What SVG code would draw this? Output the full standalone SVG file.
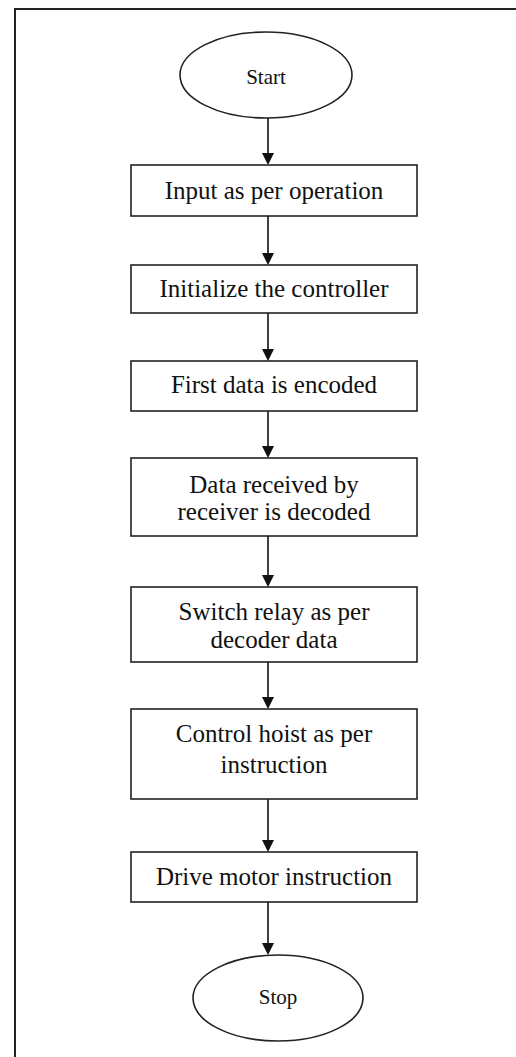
<svg xmlns="http://www.w3.org/2000/svg" width="516" height="1057" viewBox="0 0 516 1057">
<style>
.frame{fill:none;stroke:#222;stroke-width:2}
.box{fill:#fff;stroke:#222;stroke-width:1.6}
.t{font-family:"Liberation Serif","Times New Roman",serif;font-size:25px;fill:#111;text-anchor:middle}
.s{font-family:"Liberation Serif","Times New Roman",serif;font-size:21px;fill:#111;text-anchor:middle}
.ln{stroke:#111;stroke-width:1.6}
.hd{fill:#111}
</style>
<rect width="516" height="1057" fill="#fff"/>
<path class="frame" d="M15,1057 L15,9 L516,9"/>
<g id="connectors">
<path class="ln" d="M268,118 L268,155"/><path class="hd" d="M262,153 L274,153 L268,165 Z"/>
<path class="ln" d="M268,216 L268,255"/><path class="hd" d="M262,253 L274,253 L268,265 Z"/>
<path class="ln" d="M268,313 L268,351"/><path class="hd" d="M262,349 L274,349 L268,361 Z"/>
<path class="ln" d="M268,411 L268,448"/><path class="hd" d="M262,446 L274,446 L268,458 Z"/>
<path class="ln" d="M268,536 L268,577"/><path class="hd" d="M262,575 L274,575 L268,587 Z"/>
<path class="ln" d="M268,662 L268,699"/><path class="hd" d="M262,697 L274,697 L268,709 Z"/>
<path class="ln" d="M268,799 L268,842"/><path class="hd" d="M262,840 L274,840 L268,852 Z"/>
<path class="ln" d="M268,902 L268,945"/><path class="hd" d="M262,943 L274,943 L268,955 Z"/>
</g>
<g id="start"><ellipse class="box" cx="266" cy="75" rx="86" ry="43"/><text class="s" x="266" y="84">Start</text></g>
<g id="n1"><rect class="box" x="131" y="165" width="286" height="51"/><text class="t" x="274" y="199">Input as per operation</text></g>
<g id="n2"><rect class="box" x="131" y="265" width="286" height="48"/><text class="t" x="274" y="297">Initialize the controller</text></g>
<g id="n3"><rect class="box" x="131" y="361" width="286" height="50"/><text class="t" x="274" y="393">First data is encoded</text></g>
<g id="n4"><rect class="box" x="131" y="458" width="286" height="78"/><text class="t" x="274" y="493">Data received by</text><text class="t" x="274" y="520">receiver is decoded</text></g>
<g id="n5"><rect class="box" x="131" y="587" width="286" height="75"/><text class="t" x="274" y="620">Switch relay as per</text><text class="t" x="274" y="648">decoder data</text></g>
<g id="n6"><rect class="box" x="131" y="709" width="286" height="90"/><text class="t" x="274" y="742">Control hoist as per</text><text class="t" x="274" y="773">instruction</text></g>
<g id="n7"><rect class="box" x="131" y="852" width="286" height="50"/><text class="t" x="274" y="885">Drive motor instruction</text></g>
<g id="stop"><ellipse class="box" cx="278" cy="998" rx="85" ry="43"/><text class="s" x="278" y="1004">Stop</text></g>
</svg>
